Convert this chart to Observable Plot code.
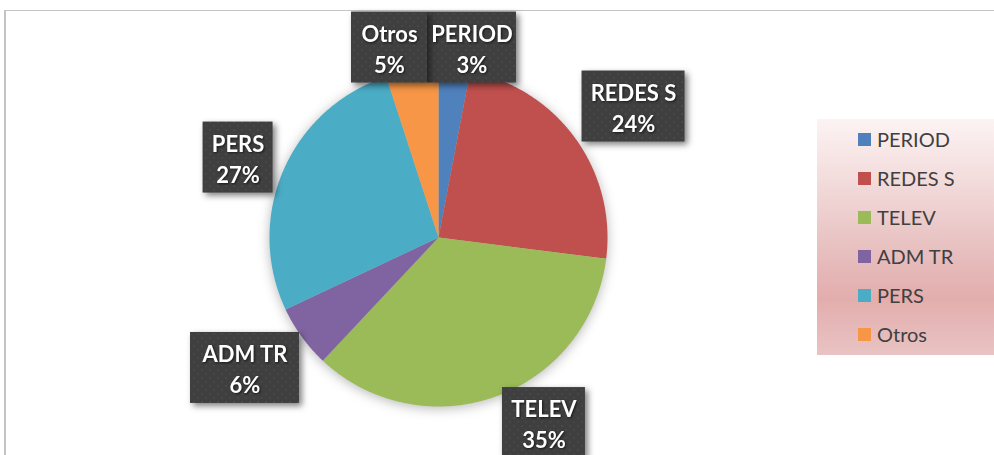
<!DOCTYPE html>
<html>
<head>
<meta charset="utf-8">
<script src="https://cdn.jsdelivr.net/npm/d3@7"></script>
<script src="https://cdn.jsdelivr.net/npm/@observablehq/plot@0.6"></script>
<style>
  html, body { margin: 0; padding: 0; background: #fff; }
  #wrap { position: relative; width: 994px; height: 455px; overflow: hidden; }
  #border { position: absolute; left: 4px; top: 10px; width: 992px; height: 450px;
            border-top: 1.5px solid #c4c4c4; border-left: 2px solid #c4c4c4; }
  #chart { position: absolute; left: 0; top: 0; }
  .pie g[aria-label="line"] { filter: drop-shadow(0px 2px 6px rgba(0,0,0,0.28)); }
  .pie g[aria-label="rect"] rect { fill: url(#dots); filter: drop-shadow(3px 3px 3px rgba(0,0,0,0.5)); }
  .pie g[aria-label="text"] { filter: drop-shadow(1px 1px 1px rgba(0,0,0,0.6)); }
  #legend { position: absolute; left: 817px; top: 119px; width: 177px; height: 236px;
            background: linear-gradient(#fdf3f3 0%, #f1d8d8 30%, #e8c0c0 55%, #e3adad 76%, #e9c3c3 100%);
            font-family: Lato, "Open Sans", sans-serif; font-size: 20px; color: #404040; }
  .item { position: absolute; left: 41px; height: 24px; display: flex; align-items: center; }
  .sw { width: 13px; height: 13px; margin-right: 6px; }
</style>
</head>
<body>
<svg width="0" height="0" style="position:absolute">
  <defs>
    <pattern id="dots" width="8" height="8" patternUnits="userSpaceOnUse">
      <rect width="8" height="8" fill="#3f3f3f"></rect>
      <circle cx="2" cy="2" r="1.1" fill="#4a4a4a"></circle>
      <circle cx="6" cy="6" r="1.1" fill="#474747"></circle>
    </pattern>
  </defs>
</svg>
<div id="wrap">
  <div id="border"></div>
  <div id="chart"></div>
  <div id="legend"></div>
</div>
<script>
// ---- data ----
const categories = ["PERIOD", "REDES S", "TELEV", "ADM TR", "PERS", "Otros"];
const shares = [3, 24, 35, 6, 27, 5];
const colors = ["#4F81BD", "#C0504D", "#9BBB59", "#8064A2", "#4BACC6", "#F79646"];

// ---- layout (label box centres in pie-radius units, box widths in px) ----
const labelPos = [[0.198, -1.124], [1.154, -0.775], [0.624, 1.098], [-1.145, 0.772], [-1.186, -0.473], [-0.290, -1.124]];
const boxWidth = [89, 103, 83, 109, 70, 76];
const boxHeight = 71;
const R = 169; // pie radius in px
const cx = 438, cy = 237;

// build slice polygons from the shares
const total = d3.sum(shares);
const slices = [];
let cum = 0;
categories.forEach((cat, i) => {
  const a0 = cum / total * 360, a1 = (cum + shares[i]) / total * 360;
  cum += shares[i];
  slices.push({cat, x: 0, y: 0});
  for (let a = a0; a < a1; a += 0.5) {
    const r = a * Math.PI / 180;
    slices.push({cat, x: Math.sin(r), y: -Math.cos(r)});
  }
  const r1 = a1 * Math.PI / 180;
  slices.push({cat, x: Math.sin(r1), y: -Math.cos(r1)});
});

const labels = categories.map((cat, i) => ({
  cat, pct: Math.round(shares[i] / total * 100),
  lx: labelPos[i][0], ly: labelPos[i][1],
  hw: boxWidth[i] / 2 / R, hh: boxHeight / 2 / R
}));

const chart = Plot.plot({
  width: 994, height: 455,
  margin: 0,
  className: "pie",
  style: {background: "transparent", overflow: "visible"},
  x: {domain: [-1, 1], range: [cx - R, cx + R], axis: null},
  y: {domain: [-1, 1], range: [cy - R, cy + R], axis: null},
  color: {domain: categories, range: colors},
  marks: [
    Plot.line(slices, {x: "x", y: "y", z: "cat", fill: "cat", stroke: null, curve: "linear-closed"}),
    Plot.rect(labels, {
      x1: d => d.lx - d.hw, x2: d => d.lx + d.hw,
      y1: d => d.ly - d.hh, y2: d => d.ly + d.hh,
      fill: "#404040"
    }),
    Plot.text(labels, {
      x: "lx", y: "ly", text: d => d.cat + "\n" + d.pct + "%",
      fill: "white", fontSize: 22, fontWeight: "bold", fontFamily: "Lato",
      lineHeight: 1.41, dy: 0
    })
  ]
});
document.getElementById("chart").appendChild(chart);

// legend
const legend = document.getElementById("legend");
categories.forEach((cat, i) => {
  const it = document.createElement("div");
  it.className = "item";
  it.style.top = (8 + i * 39) + "px";
  it.innerHTML = `<div class="sw" style="background:${colors[i]}"></div><span>${cat}</span>`;
  legend.appendChild(it);
});
</script>
</body>
</html>
